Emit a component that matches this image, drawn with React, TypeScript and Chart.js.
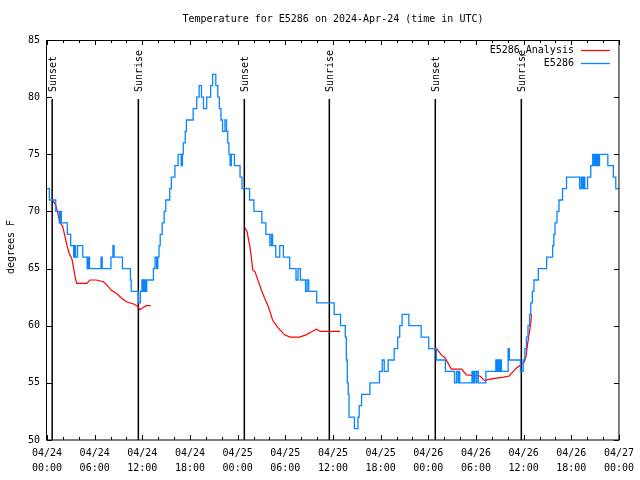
import React, { useEffect, useRef } from "react";
import { Chart, registerables } from "chart.js";

Chart.register(...registerables);

const TITLE = "Temperature for E5286 on 2024-Apr-24 (time in UTC)";
const Y_TITLE = "degrees F";
const SERIES_NAMES = ["E5286_Analysis", "E5286"];
const SERIES_COLORS = ["#ff0000", "#0a84ff"];

const xTickDates = ["04/24", "04/24", "04/24", "04/24", "04/25", "04/25", "04/25", "04/25", "04/26", "04/26", "04/26", "04/26", "04/27"];
const xTickTimes = ["00:00", "06:00", "12:00", "18:00", "00:00", "06:00", "12:00", "18:00", "00:00", "06:00", "12:00", "18:00", "00:00"];

// hours since 2024-04-24 00:00 UTC
const sunHours = [0.65, 11.5, 24.84, 35.54, 48.88, 59.71];
const sunLabels = ["Sunset", "Sunrise", "Sunset", "Sunrise", "Sunset", "Sunrise"];

// E5286 observations (value holds until next change)
const blueHours = [
  0.0, 0.3, 1.1, 1.55, 1.7, 1.8, 2.56, 2.98, 3.35, 3.5, 3.6, 3.85, 4.5, 5.05, 5.2, 5.35, 6.8, 6.95,
  8.05, 8.3, 8.45, 9.5, 10.5, 10.6, 11.5, 11.75, 11.95, 12.1, 12.25, 12.4, 12.55, 13.4, 13.6, 13.8,
  13.95, 14.1, 14.25, 14.5, 14.75, 14.95, 15.45, 15.65, 16.1, 16.5, 16.9, 17.05, 17.15, 17.4, 17.55,
  18.4, 18.85, 19.15, 19.45, 19.7, 20.1, 20.6, 20.85, 21.25, 21.5, 21.7, 21.9, 22.1, 22.4, 22.6, 22.75,
  22.9, 23.05, 23.2, 23.6, 24.3, 24.55, 25.5, 26.05, 27.05, 27.55, 28.05, 28.25, 28.4, 28.8, 29.3,
  29.75, 30.55, 31.35, 31.6, 31.9, 32.55, 32.75, 32.95, 33.95, 36.15, 36.95, 37.55, 37.68, 37.8,
  37.92, 38.02, 38.7, 39.15, 39.3, 39.6, 40.65, 41.85, 42.2, 42.45, 42.95, 43.7, 44.15, 44.4, 44.7,
  45.55, 47.1, 48.05, 49.0, 50.15, 51.3, 51.55, 51.75, 51.85, 51.95, 53.5, 53.65, 53.8, 54.0, 54.1,
  54.3, 55.25, 56.5, 56.65, 56.8, 56.95, 57.05, 57.2, 58.05, 58.2, 59.6, 59.95, 60.15, 60.35, 60.55,
  60.75, 60.9, 61.1, 61.3, 61.85, 62.9, 63.65, 63.8, 63.95, 64.2, 64.45, 64.9, 65.4, 67.05, 67.25,
  67.4, 67.55, 67.7, 68.05, 68.45, 68.7, 68.85, 69.0, 69.15, 69.3, 69.4, 69.55, 70.6, 71.3, 71.6, 72.0,
];
const blueTemps = [
  72, 71, 70, 69, 70, 69, 68, 67, 66, 67, 66, 67, 66, 65, 66, 65, 66, 65,
  66, 67, 66, 65, 64, 63, 62, 63, 64, 63, 64, 63, 64, 65, 66, 65,
  66, 67, 68, 69, 70, 71, 72, 73, 74, 75, 74, 75, 76, 77, 78,
  79, 80, 81, 80, 79, 80, 81, 82, 81, 80, 79, 78, 77, 78, 77, 76,
  75, 74, 75, 74, 73, 72, 71, 70, 69, 68, 67, 68, 67, 66, 67,
  66, 65, 64, 65, 64, 63, 64, 63, 62, 61, 60, 59, 57, 55,
  54, 52, 51, 52, 53, 54, 55, 56, 57, 56, 57, 58, 59, 60, 61,
  60, 59, 58, 57, 56, 55, 56, 55, 56, 55, 56, 55, 56, 55, 56,
  55, 56, 57, 56, 57, 56, 57, 56, 58, 57, 56, 57, 58, 59, 60,
  61, 62, 63, 64, 65, 66, 67, 68, 69, 70, 71, 72, 73, 72, 73,
  72, 73, 72, 73, 74, 75, 74, 75, 74, 75, 74, 75, 74, 73, 72, 72,
];

// E5286 Analysis (null = gap)
const redHours = [
  0.72, 1.13, 1.3, 1.64, 1.97, 2.27, 2.56, 2.81, 3.11, 3.31, 3.53, 3.74, 5.0, 5.4, 6.2, 7.1, 7.5, 8.1,
  8.8, 9.4, 10.0, 10.9, 11.4, 11.7, 12.1, 12.5, 13.05,
  18.0,
  24.9, 25.2, 25.35, 25.55, 25.77, 25.9, 26.2, 26.6, 27.0, 27.4, 27.85, 28.4, 29.0, 29.9, 30.6, 31.8,
  32.6, 33.4, 33.9, 34.4, 36.9,
  42.0,
  48.9, 49.3, 49.7, 50.1, 50.9, 52.2, 52.8, 54.5, 55.1, 55.6, 56.4, 57.5, 58.2, 58.7, 59.1, 59.5, 60.0,
  60.3, 60.5, 60.7, 60.9, 61.0,
];
const redTemps = [
  71.0, 70.5, 70.0, 69.0, 68.7, 67.8, 66.9, 66.3, 65.9, 65.2, 64.3, 63.7, 63.7, 64.0, 64.0, 63.85, 63.6, 63.1,
  62.8, 62.4, 62.1, 61.9, 61.7, 61.4, 61.6, 61.75, 61.75,
  null,
  68.6, 68.2, 67.6, 66.9, 65.7, 64.9, 64.7, 63.9, 63.1, 62.4, 61.7, 60.5, 59.9, 59.2, 59.0, 59.0,
  59.2, 59.5, 59.7, 59.5, 59.5,
  null,
  58.1, 57.75, 57.4, 57.2, 56.2, 56.2, 55.7, 55.6, 55.2, 55.3, 55.4, 55.5, 55.6, 56.0, 56.3, 56.5, 56.7,
  57.3, 58.4, 59.3, 60.2, 61.0,
];

const FONT = "'DejaVu Sans Mono', 'Liberation Mono', monospace";

const decorPlugin = {
  id: "gnuplotDecor",
  beforeDatasetsDraw(chart: any) {
    const { ctx, chartArea: a, scales } = chart;
    const x = scales.x;
    ctx.save();
    // sunrise / sunset markers
    ctx.strokeStyle = "#000";
    ctx.lineWidth = 1.5;
    ctx.fillStyle = "#000";
    ctx.font = `10px ${FONT}`;
    sunHours.forEach((h, i) => {
      const px = x.getPixelForValue(h);
      ctx.beginPath();
      ctx.moveTo(px, a.top + 59);
      ctx.lineTo(px, a.bottom);
      ctx.stroke();
      ctx.save();
      ctx.translate(px + 1, a.top + 52);
      ctx.rotate(-Math.PI / 2);
      ctx.textAlign = "left";
      ctx.textBaseline = "middle";
      ctx.fillText(sunLabels[i], 0, 0);
      ctx.restore();
    });
    ctx.restore();
  },
  afterDraw(chart: any) {
    const { ctx, chartArea: a, scales, data } = chart;
    const x = scales.x;
    const y = scales.y;
    ctx.save();
    // frame
    ctx.strokeStyle = "#000";
    ctx.lineWidth = 1;
    ctx.strokeRect(a.left - 0.5, a.top + 0.5, a.right - a.left + 0.5, a.bottom - a.top - 0.5);
    // x ticks (major every 6h, minor every 2h), top and bottom, inward
    ctx.beginPath();
    for (let h = 0; h <= 72; h += 2) {
      const px = Math.round(x.getPixelForValue(h)) + 0.5;
      const len = h % 6 === 0 ? 5 : 3;
      ctx.moveTo(px, a.bottom);
      ctx.lineTo(px, a.bottom - len);
      ctx.moveTo(px, a.top);
      ctx.lineTo(px, a.top + len);
    }
    // y ticks
    for (let v = 50; v <= 85; v += 5) {
      const py = Math.round(y.getPixelForValue(v)) + 0.5;
      ctx.moveTo(a.left, py);
      ctx.lineTo(a.left + 5, py);
      ctx.moveTo(a.right, py);
      ctx.lineTo(a.right - 5, py);
    }
    ctx.stroke();

    ctx.fillStyle = "#000";
    ctx.font = `10px ${FONT}`;
    // title
    ctx.textAlign = "center";
    ctx.textBaseline = "middle";
    ctx.fillText(TITLE, (a.left + a.right) / 2, 19);
    // y axis title
    ctx.save();
    ctx.translate(11, 247);
    ctx.rotate(-Math.PI / 2);
    ctx.fillText(Y_TITLE, 0, 0);
    ctx.restore();
    // legend
    const rows = [1, 0]; // dataset indices: analysis (red), observed (blue)
    rows.forEach((di, r) => {
      const ds = data.datasets[di];
      const ly = 50 + r * 13;
      ctx.textAlign = "right";
      ctx.fillStyle = "#000";
      ctx.fillText(ds.label, a.right - 45, ly);
      ctx.strokeStyle = ds.borderColor;
      ctx.lineWidth = ds.borderWidth;
      ctx.beginPath();
      ctx.moveTo(a.right - 38, ly + 0.5);
      ctx.lineTo(a.right - 9, ly + 0.5);
      ctx.stroke();
    });
    ctx.restore();
  },
};

export default function App() {
  const ref = useRef<HTMLCanvasElement | null>(null);
  useEffect(() => {
    document.body.style.margin = "0";
    const canvas = ref.current;
    if (!canvas) return;
    const blueData = blueHours.map((h, i) => ({ x: h, y: blueTemps[i] }));
    const redData = redHours.map((h, i) => ({ x: h, y: redTemps[i] }));
    const chart = new Chart(canvas, {
      type: "line",
      data: {
        datasets: [
          {
            label: SERIES_NAMES[1],
            data: blueData,
            borderColor: SERIES_COLORS[1],
            backgroundColor: SERIES_COLORS[1],
            borderWidth: 1.3,
            pointRadius: 0,
            stepped: true,
            fill: false,
          },
          {
            label: SERIES_NAMES[0],
            data: redData,
            borderColor: SERIES_COLORS[0],
            backgroundColor: SERIES_COLORS[0],
            borderWidth: 1.2,
            pointRadius: 0,
            tension: 0,
            spanGaps: false,
            fill: false,
          },
        ],
      },
      options: {
        responsive: false,
        devicePixelRatio: 1,
        animation: false,
        events: [],
        layout: { padding: { left: 0, right: 21, top: 40, bottom: 0 } },
        plugins: {
          legend: { display: false },
          title: { display: false },
          tooltip: { enabled: false },
        },
        scales: {
          x: {
            type: "linear",
            min: 0,
            max: 72,
            grid: { display: false, drawTicks: false },
            border: { display: false },
            ticks: {
              stepSize: 6,
              autoSkip: false,
              maxRotation: 0,
              minRotation: 0,
              padding: 6,
              color: "#000",
              font: { family: FONT, size: 10, lineHeight: 1.5 },
              callback: (v: any) => {
                const i = Math.round(Number(v) / 6);
                return [xTickDates[i], xTickTimes[i]];
              },
            },
            afterFit: (s: any) => {
              s.height = 40;
            },
          },
          y: {
            min: 50,
            max: 85,
            grid: { display: false, drawTicks: false },
            border: { display: false },
            ticks: {
              stepSize: 5,
              padding: 7,
              color: "#000",
              font: { family: FONT, size: 10 },
            },
            afterFit: (s: any) => {
              s.width = 47;
            },
          },
        },
      },
      plugins: [decorPlugin],
    });
    return () => chart.destroy();
  }, []);
  return (
    <canvas ref={ref} width={640} height={480} style={{ display: "block", width: 640, height: 480 }} />
  );
}
